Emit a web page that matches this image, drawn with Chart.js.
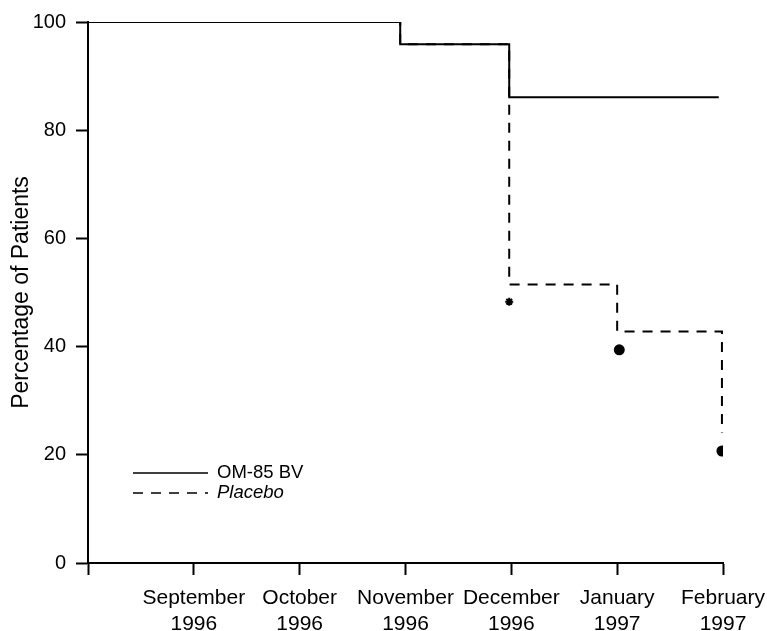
<!DOCTYPE html>
<html>
<head>
<meta charset="utf-8">
<script src="https://cdn.jsdelivr.net/npm/chart.js@4"></script>
<style>
  html, body { margin: 0; padding: 0; background: #fff; }
  #wrap { width: 767px; height: 631px; }
</style>
</head>
<body>
<div id="wrap"><canvas id="km_chart" width="767" height="631"></canvas></div>
<script>
// step curves (x = months since start, 0 = start of August 1996)
const omMonths = [0, 2.95, 3.98, 5.96];
const omValues = [100, 95.9, 86.1, 86.1];
const placeboMonths = [0, 2.95, 3.98, 5.0, 5.99];
const placeboValues = [100, 95.9, 51.5, 42.8, 24.1];

// significance markers
const markerMonths = [3.98, 5.02, 5.99];
const markerValues = [48.3, 39.4, 20.7];
const markerStyles = ['star', 'circle', 'circle'];

const tickLabels = ['', ['September', '1996'], ['October', '1996'], ['November', '1996'],
  ['December', '1996'], ['January', '1997'], ['February', '1997']];
const yTicks = [0, 20, 40, 60, 80, 100];
const seriesNames = ['OM-85 BV', 'Placebo'];

const FONT = '"Liberation Sans", Arial, Helvetica, sans-serif';

function toPoints(xs, ys) {
  let pts = [];
  for (let i = 0; i < xs.length; i++) {
    pts.push({ x: xs[i], y: ys[i] });
  }
  return pts;
}

// legend drawn inside the plot, bottom left
const innerLegend = {
  id: 'innerLegend',
  afterDraw(chart) {
    const ctx = chart.ctx;
    const area = chart.chartArea;
    const x0 = area.left + 45;
    const x1 = area.left + 120;
    const rows = [area.bottom - 90, area.bottom - 70];
    ctx.save();
    ctx.strokeStyle = '#000';
    ctx.fillStyle = '#000';
    ctx.lineWidth = 1.5;
    ctx.textBaseline = 'middle';
    for (let i = 0; i < seriesNames.length; i++) {
      ctx.setLineDash(i === 0 ? [] : [10, 8]);
      ctx.beginPath();
      ctx.moveTo(x0, rows[i]);
      ctx.lineTo(x1, rows[i]);
      ctx.stroke();
      ctx.font = (i === 0 ? '' : 'italic ') + '18.5px ' + FONT;
      ctx.fillText(seriesNames[i], x1 + 9, rows[i]);
    }
    ctx.restore();
  }
};

const config = {
  type: 'line',
  data: {
    datasets: [
      {
        label: seriesNames[0],
        data: toPoints(omMonths, omValues),
        borderColor: '#000',
        borderWidth: 2,
        stepped: true,
        pointRadius: 0,
        fill: false
      }, {
        label: seriesNames[1],
        data: toPoints(placeboMonths, placeboValues),
        borderColor: '#000',
        borderWidth: 2,
        borderDash: [10, 8],
        stepped: true,
        pointRadius: 0,
        fill: false
      }, {
        type: 'scatter',
        label: 'markers',
        data: toPoints(markerMonths, markerValues),
        pointStyle: markerStyles,
        pointRadius: [4, 4.5, 4.5],
        backgroundColor: '#000',
        borderColor: '#000',
        borderWidth: 2,
        showLine: false
      }
    ]
  },
  options: {
    responsive: false,
    animation: false,
    layout: {
      padding: { top: 22, right: 44, left: 0, bottom: 0 }
    },
    plugins: {
      legend: { display: false },
      tooltip: { enabled: false }
    },
    scales: {
      x: {
        type: 'linear',
        min: 0,
        max: 6,
        afterBuildTicks: (scale) => {
          scale.ticks = tickLabels.map((t, i) => ({ value: i }));
        },
        afterFit: (scale) => {
          scale.height = 68;
          scale.paddingLeft = 0;
          scale.paddingRight = 0;
        },
        ticks: {
          autoSkip: false,
          maxRotation: 0,
          padding: 11,
          color: '#000',
          font: { family: FONT, size: 21 },
          callback: (v) => tickLabels[v]
        },
        grid: {
          drawOnChartArea: false,
          drawTicks: true,
          tickLength: 12,
          tickWidth: 2,
          color: '#000'
        },
        border: { color: '#000', width: 2 }
      },
      y: {
        min: 0,
        max: 100,
        afterBuildTicks: (scale) => {
          scale.ticks = yTicks.map((v) => ({ value: v }));
        },
        afterFit: (scale) => { scale.width = 88; },
        ticks: {
          padding: 10,
          color: '#000',
          font: { family: FONT, size: 20 }
        },
        title: {
          display: true,
          text: 'Percentage of Patients',
          color: '#000',
          padding: { top: 8, bottom: 0 },
          font: { family: FONT, size: 23 }
        },
        grid: {
          drawOnChartArea: false,
          drawTicks: true,
          tickLength: 12,
          tickWidth: 2,
          color: '#000'
        },
        border: { color: '#000', width: 2 }
      }
    }
  },
  plugins: [innerLegend]
};

var kmChart = new Chart(document.getElementById('km_chart'), config);
</script>
</body>
</html>
